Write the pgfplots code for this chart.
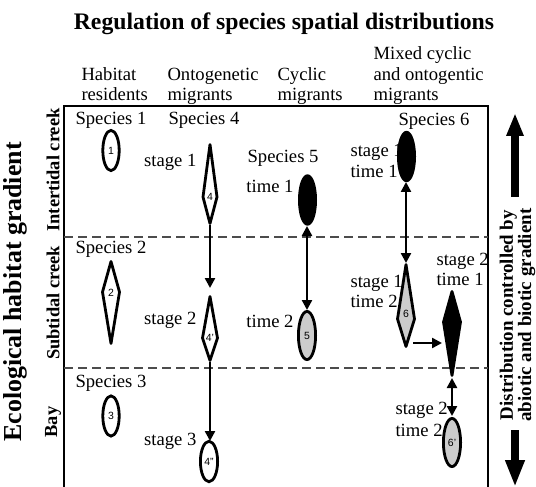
\documentclass[border=0pt]{standalone}
\usepackage{pgfplots}
\pgfplotsset{compat=1.18}
\usepackage{fontspec}
\setmainfont{Liberation Serif}
\setsansfont{Liberation Sans}
\usetikzlibrary{arrows.meta}
\definecolor{lgray}{gray}{0.8}
\definecolor{dgray}{gray}{0.3}
\newcommand{\bx}{\fontsize{18.7}{21}\selectfont}
\newcommand{\nb}{\sffamily\fontsize{10.5}{10.5}\selectfont}
\begin{document}
\begin{tikzpicture}
\begin{axis}[x=1bp,y=1bp,xmin=0,xmax=536,ymin=0,ymax=487,y dir=reverse,
  hide axis,clip=false,scale only axis,
  every node/.append style={inner sep=0pt},
  lab/.style={nodes near coords, point meta=explicit symbolic,
    every node near coord/.append style={anchor=center, font=\nb, text=black}}]
\addplot[draw=none] coordinates {(0,0) (536,487)};
% frame and dashed habitat boundaries
\addplot[black, line width=1.1bp] coordinates {(64,487) (64,106) (488,106) (488,487)};
\addplot[dgray, line width=1.4bp, dash pattern=on 9bp off 5bp] coordinates {(64,237) (488,237)};
\addplot[dgray, line width=1.4bp, dash pattern=on 9bp off 5bp] coordinates {(64,368) (488,368)};
% arrows
\addplot[black, line width=2.4bp, -{Triangle[width=10bp,length=10bp]}] coordinates {(210,225) (210,288)};
\addplot[black, line width=2.4bp, -{Triangle[width=10bp,length=10bp]}] coordinates {(210,362) (210,441)};
\addplot[black, line width=2.4bp, {Triangle[width=10bp,length=10bp]}-{Triangle[width=10bp,length=10bp]}] coordinates {(307,226) (307,310)};
\addplot[black, line width=2.4bp, {Triangle[width=10bp,length=10bp]}-{Triangle[width=10bp,length=10bp]}] coordinates {(406,182) (406,263)};
\addplot[black, line width=2.4bp, -{Triangle[width=10bp,length=10bp]}] coordinates {(413,343) (442,343)};
\addplot[black, line width=2.4bp, {Triangle[width=10bp,length=10bp]}-{Triangle[width=10bp,length=10bp]}] coordinates {(452,378) (452,416)};
% big gradient arrows
\addplot[black, line width=8bp, -{Triangle[width=16bp,length=23bp]}] coordinates {(515,197) (515,113)};
\addplot[black, line width=8bp, -{Triangle[width=18bp,length=27bp]}] coordinates {(515,430) (515,487)};
% diamonds
\addplot[draw=black, line width=2.8bp, fill=white, line join=round] coordinates {(210,144.5) (217,197) (210,223.5) (203,197)} -- cycle;
\addplot[draw=black, line width=2.8bp, fill=white, line join=round] coordinates {(111,261.5) (119.5,292) (111,343.5) (102.5,292)} -- cycle;
\addplot[draw=black, line width=2.8bp, fill=white, line join=round] coordinates {(210,296.5) (217.5,338) (210,360.5) (202.5,338)} -- cycle;
\addplot[draw=black, line width=2.8bp, fill=lgray, line join=round] coordinates {(406,264.5) (414.5,319) (406,346.5) (397.5,319)} -- cycle;
\addplot[draw=black, line width=2.8bp, fill=black, line join=round] coordinates {(452,291.5) (460.5,322) (452,375.5) (443.5,322)} -- cycle;
\addplot[draw=none, lab] coordinates {(111,293) [2] (210,197) [4] (210,338) [4'] (406,314) [6]};
% ellipses
\addplot[only marks, mark=*, mark size=8.2bp, mark options={draw=black, fill=white, line width=2.8bp, yscale=2.45}, lab] coordinates {(111,150.5) [1] (111,416) [3]};
\addplot[only marks, mark=*, mark size=8.6bp, mark options={draw=black, fill=white, line width=2.8bp, yscale=2.35}, lab] coordinates {(209,461.5) [4\char"22]};
\addplot[only marks, mark=*, mark size=8.3bp, mark options={draw=black, fill=black, line width=2.4bp, yscale=2.95}] coordinates {(307.5,200) (406.5,156.5)};
\addplot[only marks, mark=*, mark size=8.6bp, mark options={draw=black, fill=lgray, line width=2.8bp, yscale=2.8}, lab] coordinates {(307,335.5) [5] (452,442.5) [6']};
% title and headers
\node[anchor=base, font=\bfseries\fontsize{23.8}{24}\selectfont] at (284,30) {Regulation of species spatial distributions};
\node[anchor=base west, font=\bx] at (78,81) {Habitat};
\node[anchor=base west, font=\bx] at (78,101) {residents};
\node[anchor=base west, font=\bx] at (164,81) {Ontogenetic};
\node[anchor=base west, font=\bx] at (164,101) {migrants};
\node[anchor=base west, font=\bx] at (274,81) {Cyclic};
\node[anchor=base west, font=\bx] at (274,101) {migrants};
\node[anchor=base west, font=\bx] at (370,60) {Mixed cyclic};
\node[anchor=base west, font=\bx] at (370,81) {and ontogentic};
\node[anchor=base west, font=\bx] at (370,101) {migrants};
% species labels
\node[anchor=base, font=\bx] at (111,125) {Species 1};
\node[anchor=base, font=\bx] at (204,125) {Species 4};
\node[anchor=base, font=\bx] at (111,253) {Species 2};
\node[anchor=base, font=\bx] at (111,387) {Species 3};
\node[anchor=base east, font=\bx] at (322,163) {Species 5};
\node[anchor=base, font=\bx] at (434,126) {Species 6};
% stage / time labels
\node[anchor=base east, font=\bx] at (200,167) {stage 1};
\node[anchor=base east, font=\bx] at (200,324) {stage 2};
\node[anchor=base east, font=\bx] at (200,445) {stage 3};
\node[anchor=base east, font=\bx] at (297,193) {time 1};
\node[anchor=base east, font=\bx] at (297,327) {time 2};
\node[anchor=base west, font=\bx] at (347,157) {stage 1};
\node[anchor=base west, font=\bx] at (347,178) {time 1};
\node[anchor=base west, font=\bx] at (347,287) {stage 1};
\node[anchor=base west, font=\bx] at (347,307) {time 2};
\node[anchor=base west, font=\bx] at (433,265) {stage 2};
\node[anchor=base west, font=\bx] at (433,285) {time 1};
\node[anchor=base west, font=\bx] at (392,414) {stage 2};
\node[anchor=base west, font=\bx] at (392,436) {time 2};
% side labels
\node[rotate=90, font=\bfseries\fontsize{26}{26}\selectfont] at (15,292) {Ecological habitat gradient};
\node[rotate=90, font=\bfseries\fontsize{18.5}{18.5}\selectfont] at (53,170) {Intertidal creek};
\node[rotate=90, font=\bfseries\fontsize{18.5}{18.5}\selectfont] at (53,303) {Subtidal creek};
\node[rotate=90, font=\bfseries\fontsize{18.5}{18.5}\selectfont] at (53,422) {Bay};
\node[rotate=90, align=center, font=\bfseries\fontsize{19}{15}\selectfont] at (517.5,315) {Distribution controlled by\\abiotic and biotic gradient};
\end{axis}
\pgfresetboundingbox
\path (current axis.south west) rectangle (current axis.north east);
\end{tikzpicture}
\end{document}
